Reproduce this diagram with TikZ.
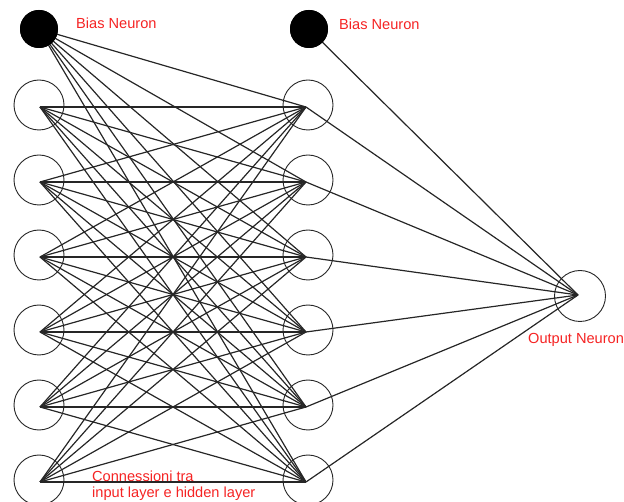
\documentclass[tikz,border=0pt]{standalone}
\usepackage{fontspec}
\setmainfont{Liberation Sans}
\definecolor{lblred}{RGB}{245,35,35}
\begin{document}
\begin{tikzpicture}[x=1pt,y=-1pt,
  neuron/.style={draw=black!85,line width=0.9pt,circle,minimum size=50pt,inner sep=0pt},
  bias/.style={fill=black,circle,minimum size=38pt,inner sep=0pt},
  conn/.style={draw=black!85,line width=1.2pt},
  lbl/.style={text=lblred,font=\fontsize{14.6}{18}\selectfont,anchor=west,inner sep=0pt,align=left}]
\useasboundingbox (0,0) rectangle (624,502);
% neurons
\node[bias] (ib) at (39,29) {};
\node[bias] (hb) at (309,29) {};
\foreach \i/\y in {1/107,2/182,3/257,4/332,5/407,6/482}{
  \coordinate (i\i) at (40,\y);
  \coordinate (h\i) at (306,\y);
}
\coordinate (o) at (578,295);
% connections
\foreach \j in {1,...,6}{
  \draw[conn] (ib.center) -- (h\j);
  \foreach \i in {1,...,6}{ \draw[conn] (i\i) -- (h\j); }
  \draw[conn] (h\j) -- (o);
}
\draw[conn] (hb.center) -- (o);
% redraw biases on top
\node[bias] at (ib) {};
\node[bias] at (hb) {};
\foreach \i/\y in {1/107,2/182,3/257,4/332,5/407,6/482}{
  \node[neuron] (ic\i) at (39,\y-2) {};
  \node[neuron] (hc\i) at (308,\y-2) {};
}
\node[neuron,minimum size=51pt] (oc) at (580,296) {};
% labels
\node[lbl] (lb1) at (76,23) {Bias Neuron};
\node[lbl] (lb2) at (339,24) {Bias Neuron};
\node[lbl] (lb3) at (528,340) {Output Neuron};
\node[lbl] (lb4) at (92,476) {Connessioni tra};
\node[lbl] (lb5) at (92,494) {input layer e hidden layer};
\end{tikzpicture}
\end{document}
